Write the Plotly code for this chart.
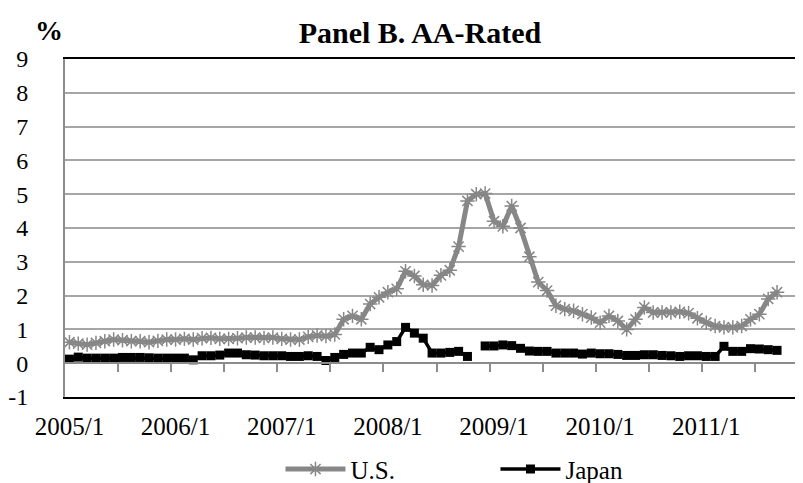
import plotly.graph_objects as go

# monthly categories 2005/1 .. 2011/12
months = [f"{y}/{m}" for y in range(2005, 2012) for m in range(1, 13)]
tick_labels = ["2005/1", "2006/1", "2007/1", "2008/1", "2009/1", "2010/1", "2011/1"]
y_ticks = [-1, 0, 1, 2, 3, 4, 5, 6, 7, 8, 9]

us = [0.62, 0.58, 0.55, 0.60, 0.65, 0.70, 0.68, 0.65, 0.65, 0.62, 0.66, 0.70,
      0.70, 0.72, 0.70, 0.74, 0.75, 0.72, 0.72, 0.74, 0.76, 0.76, 0.75, 0.76,
      0.72, 0.70, 0.70, 0.78, 0.82, 0.80, 0.85, 1.30, 1.40, 1.30, 1.75, 1.95,
      2.10, 2.20, 2.72, 2.58, 2.32, 2.30, 2.60, 2.75, 3.45, 4.80, 5.00, 5.02,
      4.20, 4.05, 4.65, 4.00, 3.15, 2.40, 2.15, 1.70, 1.60, 1.55, 1.45, 1.35,
      1.20, 1.40, 1.25, 1.00, 1.30, 1.65, 1.50, 1.50, 1.50, 1.52, 1.48, 1.33,
      1.20, 1.10, 1.06, 1.06, 1.10, 1.30, 1.45, 1.90, 2.10, None, None, None]

japan = [0.12, 0.18, 0.15, 0.15, 0.15, 0.15, 0.17, 0.17, 0.17, 0.16, 0.15, 0.15,
         0.15, 0.15, 0.10, 0.22, 0.22, 0.24, 0.30, 0.30, 0.25, 0.24, 0.22, 0.22,
         0.22, 0.20, 0.20, 0.22, 0.20, 0.08, 0.17, 0.26, 0.30, 0.30, 0.47, 0.40,
         0.54, 0.64, 1.06, 0.89, 0.74, 0.30, 0.30, 0.32, 0.35, 0.20, None, 0.51,
         0.51, 0.54, 0.52, 0.44, 0.36, 0.35, 0.35, 0.30, 0.30, 0.30, 0.27, 0.30,
         0.28, 0.28, 0.26, 0.23, 0.23, 0.25, 0.25, 0.23, 0.22, 0.20, 0.22, 0.22,
         0.20, 0.20, 0.50, 0.35, 0.35, 0.43, 0.42, 0.40, 0.38, None, None, None]

x = list(range(len(months)))
font = "Liberation Serif"

fig = go.Figure()
fig.add_trace(go.Scatter(
    x=x, y=us, name="U.S.", mode="lines+markers",
    line=dict(color="#878787", width=5),
    marker=dict(symbol="asterisk-open", size=12, color="#878787",
                line=dict(color="#878787", width=1.5)),
))
fig.add_trace(go.Scatter(
    x=x, y=japan, name="Japan", mode="lines+markers",
    line=dict(color="black", width=3.5),
    marker=dict(symbol="square", size=9, color="black"),
))
# dummy trace so the axis at y = 0 gets drawn
fig.add_trace(go.Scatter(x=[None], y=[None], xaxis="x2", yaxis="y2",
                         showlegend=False, hoverinfo="skip"))

fig.update_layout(
    # bottom axis: labels only, black frame
    xaxis=dict(
        range=[-0.5, len(months) - 0.5],
        tickvals=[months.index(t) for t in tick_labels],
        ticktext=tick_labels, ticks="", showgrid=False, zeroline=False,
        showline=True, linecolor="black", linewidth=2, mirror=True,
        tickfont=dict(size=25), ticklabelstandoff=6,
    ),
    # category axis drawn at y = 0 with half-year tick marks
    xaxis2=dict(
        overlaying="x", anchor="free", position=0.1, side="bottom",
        range=[-0.5, len(months) - 0.5],
        tickvals=[i - 0.5 for i in range(6, len(months), 6)],
        ticks="outside", ticklen=8, tickwidth=2, tickcolor="#8c8c8c",
        showticklabels=False, showgrid=False, zeroline=False,
        showline=True, linecolor="#8c8c8c", linewidth=2,
    ),
    yaxis=dict(
        range=[-1, 9], tickvals=y_ticks, ticktext=[str(v) for v in y_ticks],
        showgrid=True, gridcolor="#a6a6a6", gridwidth=2,
        zeroline=False, showline=True, linecolor="#8c8c8c", linewidth=2,
        ticks="", tickfont=dict(size=24), ticklabelstandoff=30,
    ),
    yaxis2=dict(
        overlaying="y", side="right", range=[-1, 9], showgrid=False,
        showticklabels=False, zeroline=False, showline=True,
        linecolor="black", linewidth=2,
    ),
    width=803, height=483,
    margin=dict(l=57, r=3, t=51, b=94, autoexpand=False),
    paper_bgcolor="white", plot_bgcolor="white",
    font=dict(family=font, color="black", size=24),
    title=dict(text="<b>Panel B. AA-Rated</b>", x=0.513, xanchor="center",
               y=0.95, yanchor="middle", font=dict(size=30)),
    showlegend=True,
    legend=dict(orientation="h", x=0.29, xanchor="left", yref="container",
                y=0.045, yanchor="middle",
                itemwidth=60, entrywidth=140, font=dict(size=25),
                bgcolor="rgba(0,0,0,0)"),
    annotations=[dict(text="<b>%</b>", xref="paper", yref="paper",
                      x=-0.022, y=1.085, xanchor="center", yanchor="middle",
                      showarrow=False, font=dict(size=28))],
)

fig.write_html("out.html")
